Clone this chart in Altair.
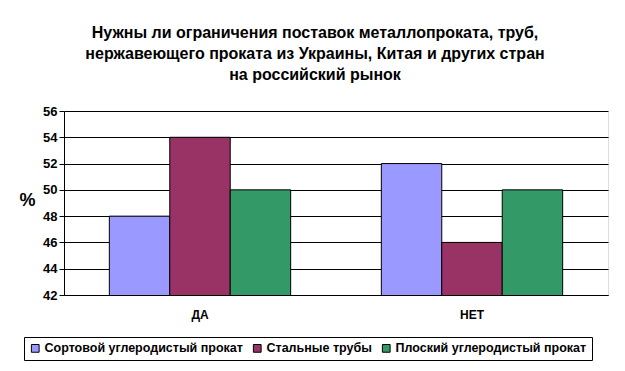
import altair as alt
import pandas as pd

categories = ["ДА", "НЕТ"]
series = ["Сортовой углеродистый прокат", "Стальные трубы", "Плоский углеродистый прокат"]
values_da = [48, 54, 50]
values_net = [52, 46, 50]
colors = ["#9999FF", "#993366", "#339966"]
y_ticks = [42, 44, 46, 48, 50, 52, 54, 56]
title_lines = [
    "Нужны ли ограничения поставок металлопроката, труб,",
    "нержавеющего проката из Украины, Китая и других  стран",
    "на российский рынок",
]

rows = []
for cat, vals in zip(categories, [values_da, values_net]):
    for s, v in zip(series, vals):
        rows.append({"cat": cat, "series": s, "value": v})
df = pd.DataFrame(rows)

FONT = "Liberation Sans"

chart = alt.Chart(df).mark_bar(stroke="black", strokeWidth=1, clip=True).encode(
    x=alt.X("cat:N", sort=categories, title=None,
            scale=alt.Scale(paddingInner=0, paddingOuter=0),
            axis=alt.Axis(labelAngle=0, labelFont=FONT, labelFontWeight="bold",
                          labelFontSize=12, labelColor="black", labelPadding=14,
                          ticks=False, domainColor="black", domainWidth=1)),
    xOffset=alt.XOffset("series:N", sort=series,
                        scale=alt.Scale(paddingOuter=0.75, paddingInner=0)),
    y=alt.Y("value:Q", title="%",
            scale=alt.Scale(domain=[42, 56], nice=False, zero=False),
            axis=alt.Axis(values=y_ticks, labelFont=FONT, labelFontWeight="bold",
                          labelFontSize=13, labelColor="black", tickColor="black",
                          tickSize=5, domainColor="black", gridColor="black",
                          gridOpacity=1, gridWidth=1,
                          titleFont=FONT, titleFontSize=18, titleFontWeight="bold",
                          titleAngle=0, titleX=-37, titleY=89, titleColor="black",
                          titleBaseline="middle", titleAlign="center")),
    color=alt.Color("series:N", sort=series,
                    scale=alt.Scale(domain=series, range=colors),
                    legend=alt.Legend(title=None, orient="none", legendX=-40, legendY=226,
                                      direction="horizontal", columns=3,
                                      symbolType="square", symbolSize=60,
                                      symbolStrokeColor="black", symbolStrokeWidth=1,
                                      labelFont=FONT, labelFontWeight="bold",
                                      labelFontSize=12.5, labelColor="black",
                                      columnPadding=8, symbolOffset=0,
                                      labelOffset=3, labelLimit=300,
                                      padding=5, strokeColor="black",
                                      fillColor="white")),
).properties(
    width=544,
    height=184,
    title=alt.TitleParams(text=title_lines, font=FONT, fontSize=16, fontWeight="bold",
                          color="black", anchor="middle", dx=-21, dy=6, offset=28,
                          lineHeight=21),
    padding={"left": 56, "top": 103, "right": 9, "bottom": 72},
    autosize="none",
).configure_view(
    fill="#FFFFCC", stroke="#808080", strokeWidth=1,
).configure(background="white")

chart.save("out.html", embed_options={"renderer": "svg", "actions": False})
